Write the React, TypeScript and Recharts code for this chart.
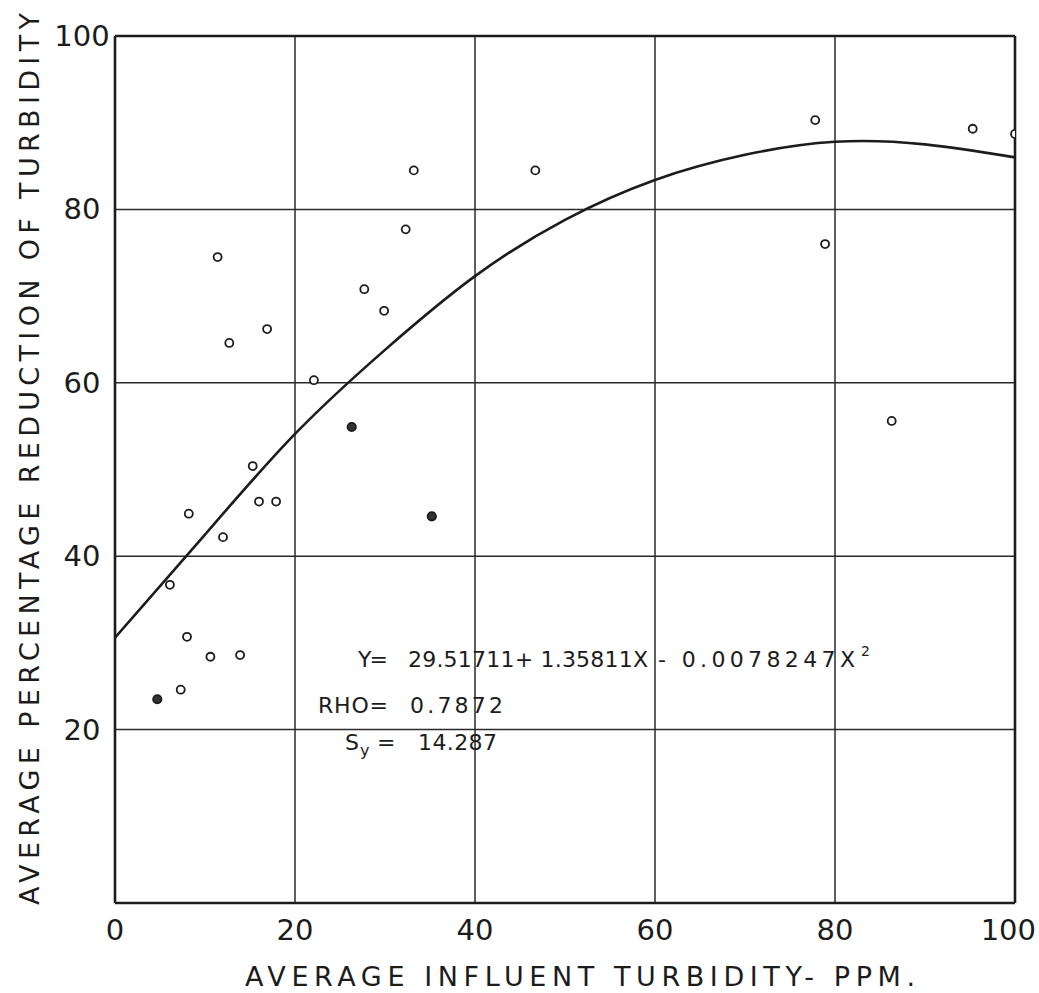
import { ComposedChart, Scatter, Line, XAxis, YAxis, CartesianGrid, ReferenceLine, Customized } from 'recharts';

// observed points (influent turbidity ppm, % reduction)
const openX = [6.1, 7.3, 8.0, 8.2, 10.6, 11.4, 12.0, 12.7, 13.9, 15.3, 16.0, 16.9, 17.9, 22.1, 27.7, 29.9, 32.3, 33.2, 46.7, 77.8, 78.9, 86.3, 95.3, 100];
const openY = [36.7, 24.6, 30.7, 44.9, 28.4, 74.5, 42.2, 64.6, 28.6, 50.4, 46.3, 66.2, 46.3, 60.3, 70.8, 68.3, 77.7, 84.5, 84.5, 90.3, 76.0, 55.6, 89.3, 88.7];
const solidX = [4.7, 26.3, 35.2];
const solidY = [23.5, 54.9, 44.6];

// fitted curve as drawn on the sheet
const curveX = [0, 10, 20, 30, 40, 50, 60, 70, 80, 90, 100];
const curveY = [30.6, 42.5, 54.1, 63.8, 72.3, 78.8, 83.4, 86.3, 87.8, 87.5, 86.0];

const xTicks = [0, 20, 40, 60, 80, 100];
const yTicks = [20, 40, 60, 80, 100];

const openPts = openX.map((x, i) => ({ x, y: openY[i] }));
const solidPts = solidX.map((x, i) => ({ x, y: solidY[i] }));
const curve = curveX.map((x, i) => ({ x, y: curveY[i] }));

const INK = '#1c1c1c';
const FONT = '"DejaVu Sans", sans-serif';

const OpenDot = (props: any) => (
  <circle cx={props.cx} cy={props.cy} r={4} fill="#fff" stroke={INK} strokeWidth={1.8} />
);
const SolidDot = (props: any) => (
  <circle cx={props.cx} cy={props.cy} r={4.2} fill="#333" stroke={INK} strokeWidth={1.8} />
);

const XTick = (props: any) => {
  const last = props.payload.value === 100;
  return (
    <text x={last ? 1036 : props.x} y={930} textAnchor={last ? 'end' : 'middle'} dominantBaseline="central"
      fontFamily={FONT} fontSize={29} fill={INK}>
      {props.payload.value}
    </text>
  );
};
const YTick = (props: any) => (
  <text x={82} y={props.y} textAnchor="middle" dominantBaseline="central" fontFamily={FONT} fontSize={29} fill={INK}>
    {props.payload.value}
  </text>
);

function Notes() {
  const t = { fontFamily: FONT, fill: INK } as const;
  return (
    <g>
      {/* axis titles */}
      <text {...t} x={580} y={986} fontSize={27} textAnchor="middle" textLength={670} lengthAdjust="spacing">
        AVERAGE INFLUENT TURBIDITY- PPM.
      </text>
      <text {...t} x={0} y={0} fontSize={27} textAnchor="middle" textLength={892} lengthAdjust="spacing"
        transform="translate(39 459) rotate(-90)">
        AVERAGE PERCENTAGE REDUCTION OF TURBIDITY
      </text>

      {/* regression notes */}
      <text {...t} x={358} y={667} fontSize={22} textLength={30} lengthAdjust="spacing">Y=</text>
      <text {...t} x={408} y={667} fontSize={22} textLength={240} lengthAdjust="spacing">29.51711+ 1.35811X</text>
      <text {...t} x={658} y={667} fontSize={22} textLength={197} lengthAdjust="spacing">- 0.0078247X</text>
      <text {...t} x={861} y={656} fontSize={14}>2</text>

      <text {...t} x={318} y={713} fontSize={22} textLength={70} lengthAdjust="spacing">RHO=</text>
      <text {...t} x={410} y={713} fontSize={22} textLength={93} lengthAdjust="spacing">0.7872</text>

      <text {...t} x={345} y={750} fontSize={22}>S</text>
      <text {...t} x={360} y={756} fontSize={16}>y</text>
      <text {...t} x={377} y={750} fontSize={22}>=</text>
      <text {...t} x={418} y={750} fontSize={22} textLength={79} lengthAdjust="spacing">14.287</text>
    </g>
  );
}

export default function App() {
  return (
    <div style={{ position: 'absolute', left: 0, top: 0, background: '#fff' }}>
      <ComposedChart width={1039} height={993} margin={{ top: 36, right: 24, left: 0, bottom: 0 }}>
        <CartesianGrid stroke="#2a2a2a" strokeWidth={1.5} horizontalValues={yTicks} verticalValues={xTicks} />
        <XAxis
          dataKey="x"
          type="number"
          domain={[0, 100]}
          ticks={xTicks}
          height={90}
          axisLine={{ stroke: INK, strokeWidth: 2.6 }}
          tickLine={false}
          tick={<XTick />}
          allowDataOverflow
        />
        <YAxis
          dataKey="y"
          type="number"
          domain={[0, 100]}
          ticks={yTicks}
          width={115}
          axisLine={{ stroke: INK, strokeWidth: 2.6 }}
          tickLine={false}
          tick={<YTick />}
          allowDataOverflow
        />
        <ReferenceLine y={100} stroke={INK} strokeWidth={2.4} />
        <ReferenceLine x={100} stroke={INK} strokeWidth={2.6} />
        <Line
          data={curve}
          dataKey="y"
          type="natural"
          stroke={INK}
          strokeWidth={2.6}
          dot={false}
          activeDot={false}
          isAnimationActive={false}
        />
        <Scatter data={openPts} dataKey="y" shape={<OpenDot />} isAnimationActive={false} />
        <Scatter data={solidPts} dataKey="y" shape={<SolidDot />} isAnimationActive={false} />
        <Customized component={<Notes />} />
      </ComposedChart>
    </div>
  );
}
